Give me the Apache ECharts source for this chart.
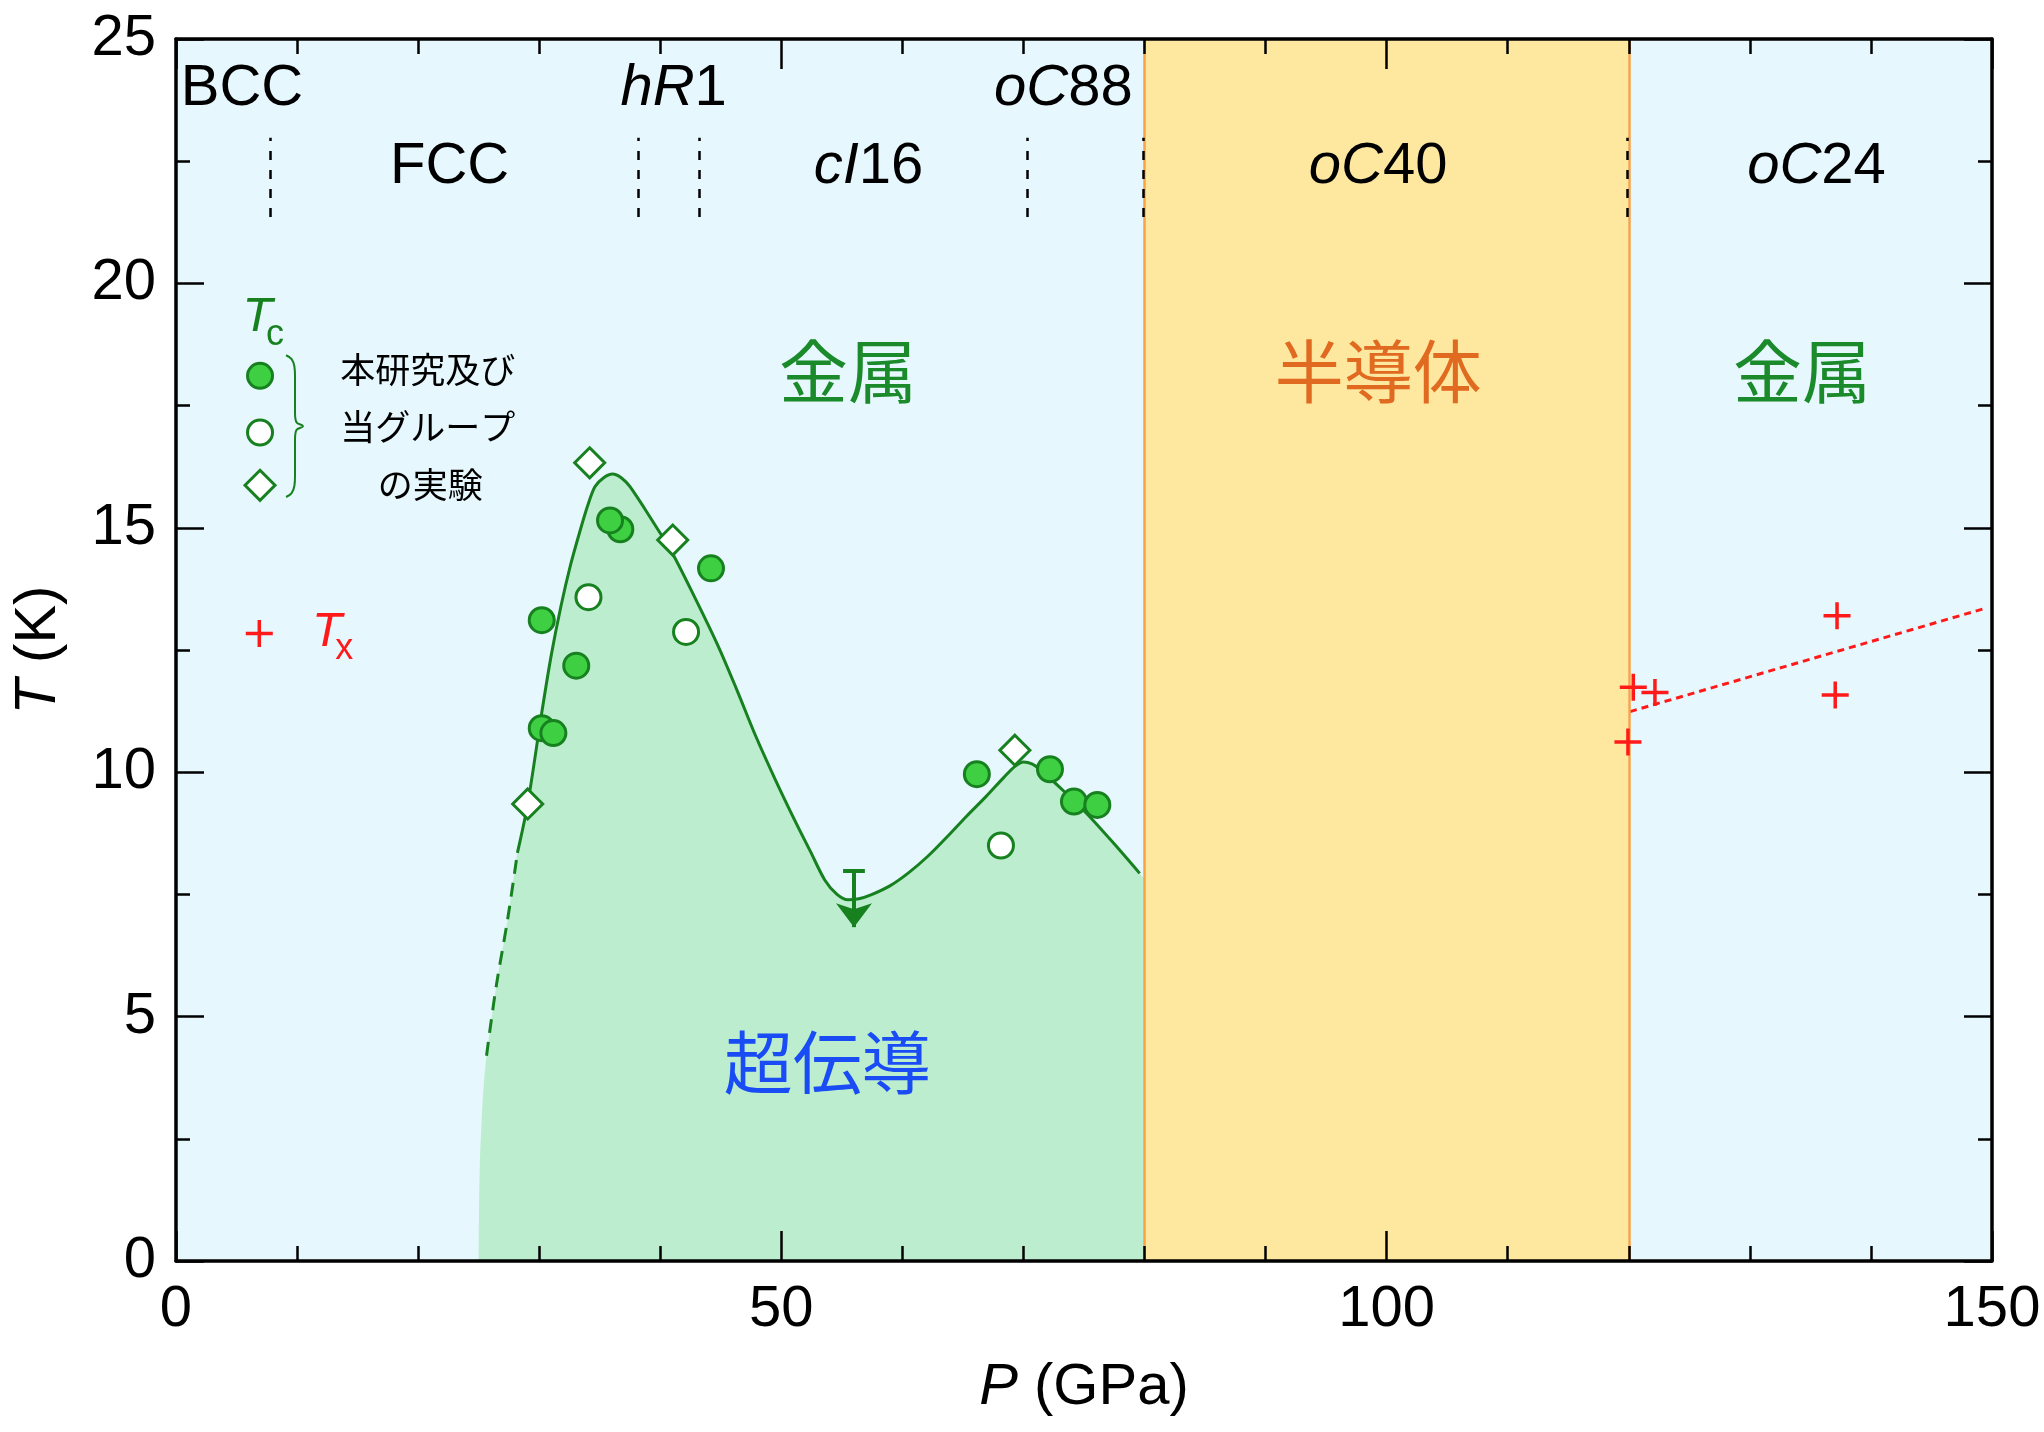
<!DOCTYPE html>
<html><head><meta charset="utf-8">
<script src="https://cdn.jsdelivr.net/npm/echarts@6/dist/echarts.min.js"></script>
<style>html,body{margin:0;padding:0;background:#fff}#c{width:2044px;height:1432px}</style>
</head><body><div id="c"></div>
<script>
// ---------- data (P in GPa, T in K) ----------
const filledP = [36.7, 35.85, 30.21, 31.17, 30.21, 33.06, 44.19, 66.15, 72.19, 74.17, 76.1];
const filledT = [14.97, 15.15, 10.9, 10.8, 13.11, 12.18, 14.17, 9.96, 10.06, 9.40, 9.33];
const openP = [34.07, 42.13, 68.14];
const openT = [13.58, 12.87, 8.50];
const diamondP = [29.05, 34.17, 41.03, 69.29];
const diamondT = [9.35, 16.33, 14.75, 10.45];
const txP = [119.93, 120.37, 122.16, 137.05, 137.2];
const txT = [10.62, 11.74, 11.63, 11.58, 13.2];
const txFitP = [120.1, 149.4];
const txFitT = [11.24, 13.35];

// Tc boundary: extrapolated (dashed) part and measured (solid) part
const tcDashedP = [25.65, 26.0, 26.5, 27.4, 28.2];
const tcDashedT = [4.2, 4.85, 5.7, 7.0, 8.35];
const tcSolidP = [28.2, 29.05, 30.2, 31.0, 31.8, 32.6, 33.4, 34.0, 34.6, 35.3, 36.06, 36.8, 37.5, 39.2, 41.0, 42.9, 44.8, 46.3, 47.9, 49.5, 51.1, 52.4, 53.6, 54.6, 55.5, 56.4, 57.4, 59.0, 60.5, 62.1, 63.7, 65.3, 66.9, 68.4, 69.3, 70.0, 70.7, 71.4, 73.3, 75.2, 77.4, 79.6];
const tcSolidT = [8.35, 9.35, 11.2, 12.4, 13.4, 14.25, 14.96, 15.45, 15.84, 16.02, 16.1, 16.02, 15.84, 15.2, 14.48, 13.55, 12.57, 11.7, 10.73, 9.85, 9.02, 8.38, 7.79, 7.5, 7.39, 7.41, 7.49, 7.68, 7.94, 8.28, 8.68, 9.1, 9.5, 9.9, 10.12, 10.21, 10.17, 10.05, 9.62, 9.16, 8.56, 7.93];
// superconducting region edge below the dashed line and at the oC40 boundary
const scLowP = [25.0, 25.03, 25.1, 25.25, 25.42];
const scLowT = [0, 1.0, 2.0, 2.9, 3.6];
const scEndP = [80.0];
const scEndT = [7.82];

// upper bound of Tc near 56 GPa (arrow)
const boundP = 56.0, boundTop = 7.98, boundEnd = 6.83, capHalf = 0.9;

// phases
const regionEdges = [0, 80, 120, 150];
const phaseBoundaryP = [7.76, 38.2, 43.2, 70.3, 79.9, 119.9];
const phaseBoundaryT = [21.36, 22.98];
const phaseNames = ['BCC', 'FCC', '{i|hR}1', '{i|cI}16', '{i|oC}88', '{i|oC}40', '{i|oC}24'];
const phaseNameP = [5.45, 22.6, 41.1, 57.2, 73.3, 99.3, 135.5];
const phaseNameT = [23.98, 22.39, 23.98, 22.39, 23.98, 22.39, 22.39];
const stateNames = ['金属', '半導体', '金属', '超伝導'];
const stateP = [55.5, 99.3, 134.3, 53.8];
const stateT = [18.2, 18.2, 18.2, 4.05];

// legend
const legendKeyP = 6.94;
const legendKeyT = [18.11, 16.95, 15.87, 12.84];
const legendText = ['本研究及び', '当グループ', 'の実験'];
const legendTextP = [20.8, 20.8, 21.0];
const legendTextT = [18.23, 17.07, 15.88];
const braceP = [9.09, 9.55, 9.78, 9.83, 9.83, 9.95, 10.49, 9.95, 9.83, 9.83, 9.78, 9.55, 9.09];
const braceT = [18.53, 18.45, 18.3, 18.1, 17.35, 17.16, 17.08, 17.0, 16.81, 16.06, 15.86, 15.71, 15.63];

// ---------- styles ----------
const GREEN = '#17801f', FILL = '#3ecf43', RED = '#ff1a1a';
const FONT = 'Liberation Sans, Arial, sans-serif';
const CJK = 'Noto Sans CJK JP, sans-serif';
const stateColors = ['#1a8a2a', '#e06a20', '#1a8a2a', '#1a4cf5'];
const bandColors = ['#e6f7fe', '#fee8a0', '#e6f7fe'];
const PLUS = 'path://M-1.3,-10H1.3V-1.3H10V1.3H1.3V10H-1.3V1.3H-10V-1.3H-1.3Z';

const zip = (a, b) => a.map((v, i) => [v, b[i]]);
const fillData = zip(scLowP, scLowT).concat(zip(tcDashedP, tcDashedT), zip(tcSolidP, tcSolidT).slice(1), zip(scEndP, scEndT));

function textItem(p, t, text, color, size, family, italic) {
  return { value: [p, t], label: { show: true, position: 'inside', formatter: text, color: color, fontSize: size, fontFamily: family, fontStyle: italic ? 'italic' : 'normal',
    rich: { i: { fontStyle: 'italic', fontSize: size, fontFamily: family, color: color } } } };
}
const texts = [];
phaseNames.forEach((n, i) => texts.push(textItem(phaseNameP[i], phaseNameT[i], n, '#000', 58, FONT, false)));
stateNames.forEach((n, i) => texts.push(textItem(stateP[i], stateT[i], n, stateColors[i], 69, CJK, false)));
legendText.forEach((n, i) => texts.push(textItem(legendTextP[i], legendTextT[i], n, '#000', 35, CJK, false)));
texts.push(textItem(6.73, 19.3, 'T', GREEN, 49, FONT, true));
texts.push(textItem(8.18, 18.95, 'c', GREEN, 36, FONT, false));
texts.push(textItem(12.47, 12.86, 'T', RED, 49, FONT, true));
texts.push(textItem(13.9, 12.52, 'x', RED, 36, FONT, false));

const axisCommon = {
  type: 'value', z: 10,
  axisLine: { show: true, onZero: false, lineStyle: { color: '#000', width: 3.5 } },
  axisTick: { show: true, inside: true, lineStyle: { color: '#000', width: 2.5 } },
  minorTick: { show: true, lineStyle: { color: '#000', width: 2.5 } },
  splitLine: { show: false },
};

const option = {
  animation: false,
  backgroundColor: '#fff',
  grid: { left: 176, right: 52, top: 39, bottom: 171, containLabel: false },
  xAxis: [
    Object.assign({}, axisCommon, {
      position: 'bottom', min: 0, max: 150, interval: 50,
      axisTick: Object.assign({}, axisCommon.axisTick, { length: 30 }),
      minorTick: Object.assign({}, axisCommon.minorTick, { splitNumber: 5, length: 15 }),
      axisLabel: { color: '#000', fontSize: 58, fontFamily: FONT, margin: 20 },
      name: '{i|P} (GPa)', nameLocation: 'middle', nameGap: 98,
      nameTextStyle: { color: '#000', fontSize: 58, fontFamily: FONT, rich: { i: { fontStyle: 'italic', fontSize: 58, fontFamily: FONT, color: '#000' } } },
    }),
    Object.assign({}, axisCommon, {
      position: 'top', min: 0, max: 150, interval: 50,
      axisTick: Object.assign({}, axisCommon.axisTick, { length: 30 }),
      minorTick: Object.assign({}, axisCommon.minorTick, { splitNumber: 5, length: 15 }),
      axisLabel: { show: false },
    }),
  ],
  yAxis: [
    Object.assign({}, axisCommon, {
      position: 'left', min: 0, max: 25, interval: 5,
      axisTick: Object.assign({}, axisCommon.axisTick, { length: 28 }),
      minorTick: Object.assign({}, axisCommon.minorTick, { splitNumber: 2, length: 14 }),
      axisLabel: { color: '#000', fontSize: 58, fontFamily: FONT, margin: 20 },
      name: '{i|T} (K)', nameLocation: 'middle', nameGap: 108, nameRotate: 90,
      nameTextStyle: { color: '#000', fontSize: 58, fontFamily: FONT, rich: { i: { fontStyle: 'italic', fontSize: 58, fontFamily: FONT, color: '#000' } } },
    }),
    Object.assign({}, axisCommon, {
      position: 'right', min: 0, max: 25, interval: 5,
      axisTick: Object.assign({}, axisCommon.axisTick, { length: 28 }),
      minorTick: Object.assign({}, axisCommon.minorTick, { splitNumber: 2, length: 14 }),
      axisLabel: { show: false },
    }),
  ],
  series: [
    { // phase background bands and boundaries
      type: 'line', z: 0, data: [[0, 0]], symbol: 'none', lineStyle: { width: 0 }, silent: true,
      markArea: { silent: true, data: bandColors.map((c, i) => [{ xAxis: regionEdges[i], itemStyle: { color: c, opacity: 1 } }, { xAxis: regionEdges[i + 1] }]) },
      markLine: { silent: true, symbol: ['none', 'none'], label: { show: false }, lineStyle: { color: '#f7a448', width: 2.5, type: 'solid', opacity: 1 },
        data: [[{ coord: [regionEdges[1], 0] }, { coord: [regionEdges[1], 25] }], [{ coord: [regionEdges[2], 0] }, { coord: [regionEdges[2], 25] }]] },
    },
    { // superconducting region fill
      type: 'line', z: 1, data: fillData, smooth: 0.3, symbol: 'none', lineStyle: { width: 0 }, areaStyle: { color: '#bcedce', opacity: 1 }, silent: true,
    },
    { type: 'line', z: 3, data: zip(tcDashedP, tcDashedT), smooth: 0.3, symbol: 'none', lineStyle: { color: GREEN, width: 3, type: [14, 9] }, silent: true },
    { type: 'line', z: 3, data: zip(tcSolidP, tcSolidT), smooth: 0.3, symbol: 'none', lineStyle: { color: GREEN, width: 3 }, silent: true },
    { // phase boundary dashes + upper-bound arrow
      type: 'line', z: 4, data: [], symbol: 'none', silent: true,
      markLine: { silent: true, symbol: ['none', 'none'], label: { show: false },
        data: phaseBoundaryP.map(p => [{ coord: [p, phaseBoundaryT[0]], lineStyle: { color: '#000', width: 2.5, type: [9, 10], opacity: 1 } }, { coord: [p, phaseBoundaryT[1]] }])
          .concat([
            [{ coord: [boundP - capHalf, boundTop], lineStyle: { color: GREEN, width: 4, type: 'solid', opacity: 1 } }, { coord: [boundP + capHalf, boundTop] }],
            [{ coord: [boundP, boundTop], symbol: 'none', lineStyle: { color: GREEN, width: 4, type: 'solid', opacity: 1 } }, { coord: [boundP, boundEnd], symbol: 'arrow', symbolSize: [27, 24] }],
          ]) },
    },
    { type: 'line', z: 3, data: zip(txFitP, txFitT), symbol: 'none', lineStyle: { color: RED, width: 3, type: [7, 5] }, silent: true },
    { type: 'scatter', z: 5, data: zip(openP, openT), symbol: 'circle', symbolSize: 25, itemStyle: { color: '#fff', borderColor: GREEN, borderWidth: 3, opacity: 1 } },
    { type: 'scatter', z: 5, data: zip(diamondP, diamondT), symbol: 'diamond', symbolSize: 30, itemStyle: { color: '#fff', borderColor: GREEN, borderWidth: 3, opacity: 1 } },
    { type: 'scatter', z: 5, data: zip(filledP, filledT), symbol: 'circle', symbolSize: 25, itemStyle: { color: FILL, borderColor: GREEN, borderWidth: 3, opacity: 1 } },
    { type: 'scatter', z: 5, data: zip(txP, txT), symbol: PLUS, symbolSize: 27, itemStyle: { color: RED, opacity: 1 } },
    { // legend keys
      type: 'scatter', z: 5, silent: true, itemStyle: { opacity: 1 },
      data: [
        { value: [legendKeyP, legendKeyT[0]], symbol: 'circle', symbolSize: 25, itemStyle: { color: FILL, borderColor: GREEN, borderWidth: 3, opacity: 1 } },
        { value: [legendKeyP, legendKeyT[1]], symbol: 'circle', symbolSize: 25, itemStyle: { color: '#fff', borderColor: GREEN, borderWidth: 3, opacity: 1 } },
        { value: [legendKeyP, legendKeyT[2]], symbol: 'diamond', symbolSize: 30, itemStyle: { color: '#fff', borderColor: GREEN, borderWidth: 3, opacity: 1 } },
        { value: [legendKeyP - 0.06, legendKeyT[3]], symbol: PLUS, symbolSize: 27, itemStyle: { color: RED, opacity: 1 } },
      ],
    },
    { type: 'line', z: 5, data: zip(braceP, braceT), smooth: 0.4, symbol: 'none', lineStyle: { color: GREEN, width: 2 }, silent: true },
    { type: 'scatter', z: 6, data: texts, symbolSize: 0, silent: true, itemStyle: { opacity: 1 } },
  ],
};

const chart = echarts.init(document.getElementById('c'));
chart.setOption(option);
</script></body></html>
